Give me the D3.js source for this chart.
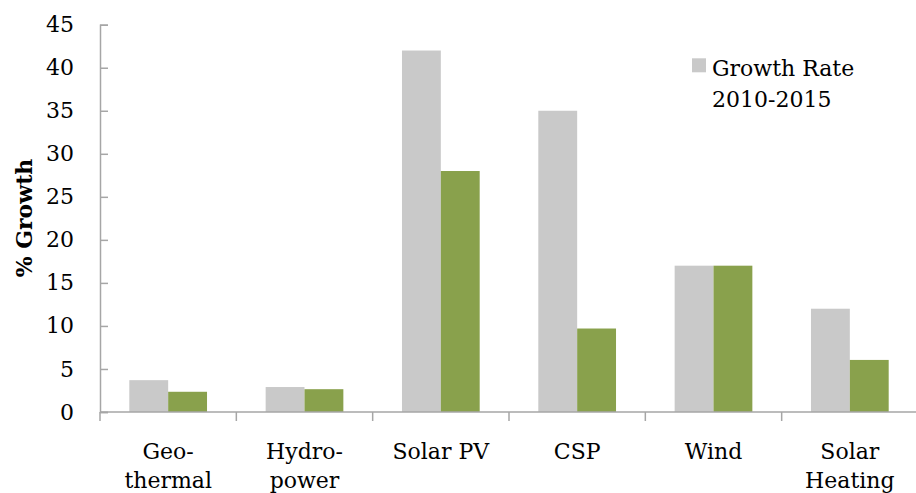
<!DOCTYPE html>
<html><head><meta charset="utf-8">
<script src="https://cdn.jsdelivr.net/npm/d3@7"></script>
<style>body{margin:0;background:#fff}svg{display:block}text{font-family:"DejaVu Serif",serif}</style>
</head><body>
<script>
const categories = [["Geo-","thermal"],["Hydro-","power"],["Solar PV"],["CSP"],["Wind"],["Solar","Heating"]];
const seriesNames = ["Growth Rate 2010-2015", "Growth Rate 2015"];
const growth2010_2015 = [3.7, 2.9, 42, 35, 17, 12];
const growthSecond = [2.35, 2.65, 28, 9.7, 17, 6.05];
const yTicks = [0,5,10,15,20,25,30,35,40,45];
const colors = ["#c9c9c9", "#89a14c"];

const W=916, H=493;
const svg = d3.select("body").append("svg").attr("width",W).attr("height",H);
const keys = categories.map((c,i)=>i);
const x = d3.scaleBand().domain(keys).range([100, 918]).paddingInner(0.43).paddingOuter(0.215);
const xs = d3.scaleBand().domain([0,1]).range([0, x.bandwidth()]);
const y = d3.scaleLinear().domain([0,45]).range([412, 24.7]);

const series = [growth2010_2015, growthSecond];
series.forEach((vals, s) => {
  svg.append("g").selectAll("rect").data(vals).join("rect")
    .attr("x",(d,i)=>x(i)+xs(s)).attr("width",xs.bandwidth())
    .attr("y",d=>y(d)).attr("height",d=>y(0)-y(d)).attr("fill",colors[s]);
});

const axisColor="#a6a6a6";
// y axis
const ya = svg.append("g").attr("transform","translate(100,0)")
  .call(d3.axisLeft(y).tickValues(yTicks).tickSize(-8).tickPadding(34));
ya.select(".domain").attr("stroke",axisColor).attr("stroke-width",1.5);
ya.selectAll(".tick line").attr("stroke",axisColor).attr("stroke-width",1.5);
ya.selectAll(".tick text").attr("font-size",22).attr("font-family","DejaVu Serif").attr("fill","#000").attr("dx",8);

// x axis
const xEdge = d3.scaleLinear().domain([0,6]).range([x.step()*0+100, 100+x.step()*6]);
svg.append("line").attr("x1",100).attr("x2",W).attr("y1",y(0)).attr("y2",y(0)).attr("stroke",axisColor).attr("stroke-width",1.5);
svg.append("g").selectAll("line").data(d3.range(7)).join("line")
  .attr("x1",d=>xEdge(d)).attr("x2",d=>xEdge(d)).attr("y1",y(0)).attr("y2",y(0)+9)
  .attr("stroke",axisColor).attr("stroke-width",1.5);
const xl = svg.append("g").selectAll("text").data(categories).join("text")
  .attr("x",(d,i)=>x(i)+x.bandwidth()/2).attr("y",459)
  .attr("text-anchor","middle").attr("font-size",22).attr("fill","#000");
xl.each(function(d){
  const t=d3.select(this);
  d.forEach((line,k)=>t.append("tspan").attr("x",t.attr("x")).attr("dy",k?29:0).text(line));
});

// y title
svg.append("text").attr("transform","translate(32,218) rotate(-90)")
  .attr("text-anchor","middle").attr("font-size",22).attr("font-weight","bold").text("% Growth");

// legend
const lg = svg.append("g");
lg.append("rect").attr("x",692).attr("y",58.3).attr("width",14).attr("height",14).attr("fill",colors[0]);
lg.append("text").attr("x",712).attr("y",75.7).attr("font-size",22).text("Growth Rate");
lg.append("text").attr("x",712).attr("y",106.7).attr("font-size",22).text("2010-2015");
</script>
</body></html>
